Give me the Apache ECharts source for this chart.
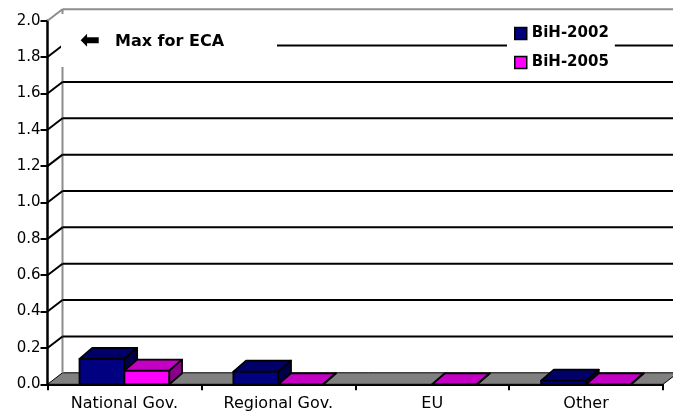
<!DOCTYPE html>
<html>
<head>
<meta charset="utf-8">
<script src="https://cdn.jsdelivr.net/npm/echarts@6/dist/echarts.min.js"></script>
<style>
  html, body { margin: 0; padding: 0; background: #fff; }
  #chart { width: 673px; height: 413px; }
</style>
</head>
<body>
<div id="chart"></div>
<script>
// Funding sources, share of firms (BiH survey rounds)
const categories = ['National Gov.', 'Regional Gov.', 'EU', 'Other'];
const bih2002 = [0.14, 0.07, null, 0.02];
const bih2005 = [0.075, 0, 0, 0];
const yTicks = [0, 0.2, 0.4, 0.6, 0.8, 1.0, 1.2, 1.4, 1.6, 1.8, 2.0];
const seriesNames = ['BiH-2002', 'BiH-2005'];
const annotationText = 'Max for ECA';

// depth of the back wall and of the boxes (pseudo-3D)
const WALL_DX = 15, WALL_DY = -11.5;
const BOX_DX = 12.7, BOX_DY = -11;
const BAR_SHARE = 0.292;
const FONT = '"DejaVu Sans", sans-serif';

function frameRenderer(params, api) {
  const cs = params.coordSys;
  const v = api.value(1);
  const y = api.coord([0, v])[1];
  const L = cs.x, R = cs.x + cs.width;
  const children = [];
  if (params.dataIndex === 0) {
    const yTop = api.coord([0, yTicks[yTicks.length - 1]])[1];
    children.push({
      type: 'polygon',
      shape: { points: [[L, y], [R, y], [R + WALL_DX, y + WALL_DY], [L + WALL_DX, y + WALL_DY]] },
      style: { fill: '#808080', stroke: '#000', lineWidth: 1 }
    });
    children.push({
      type: 'line',
      shape: { x1: L + WALL_DX, y1: yTop + WALL_DY, x2: L + WALL_DX, y2: y + WALL_DY },
      style: { stroke: '#8c8c8c', lineWidth: 2 }
    });
  } else {
    const isTop = params.dataIndex === yTicks.length - 1;
    const c = isTop ? '#8c8c8c' : '#000';
    children.push({
      type: 'line',
      shape: { x1: L, y1: y, x2: L + WALL_DX, y2: y + WALL_DY },
      style: { stroke: c, lineWidth: 2 }
    });
    children.push({
      type: 'line',
      shape: { x1: L + WALL_DX, y1: y + WALL_DY, x2: R + WALL_DX + 30, y2: y + WALL_DY },
      style: { stroke: c, lineWidth: 2 }
    });
  }
  return { type: 'group', children };
}

function boxRenderer(slot, faceColor, topColor, sideColor) {
  return function (params, api) {
    const v = api.value(1);
    if (v == null || isNaN(v)) return null;
    const cat = api.value(0);
    const base = api.coord([cat, 0]);
    const tip = api.coord([cat, v]);
    const w = api.size([1, 0])[0] * BAR_SHARE;
    const x0 = slot === 0 ? base[0] - w : base[0];
    const x1 = x0 + w;
    const y0 = base[1], y1 = tip[1];
    const stroke = { stroke: '#000', lineWidth: 1.8, lineJoin: 'round' };
    return {
      type: 'group',
      children: [
        { type: 'rect', shape: { x: x0, y: y1, width: w, height: y0 - y1 },
          style: Object.assign({ fill: faceColor }, stroke) },
        { type: 'polygon',
          shape: { points: [[x0, y1], [x1, y1], [x1 + BOX_DX, y1 + BOX_DY], [x0 + BOX_DX, y1 + BOX_DY]] },
          style: Object.assign({ fill: topColor }, stroke) },
        { type: 'polygon',
          shape: { points: [[x1, y1], [x1 + BOX_DX, y1 + BOX_DY], [x1 + BOX_DX, y0 + BOX_DY], [x1, y0]] },
          style: Object.assign({ fill: sideColor }, stroke) }
      ]
    };
  };
}

const chart = echarts.init(document.getElementById('chart'));
chart.setOption({
  animation: false,
  backgroundColor: '#fff',
  grid: { left: 47.5, right: 10, top: 20.7, bottom: 28.7, containLabel: false },
  xAxis: {
    type: 'category',
    data: categories,
    boundaryGap: true,
    axisLine: { show: true, lineStyle: { color: '#000', width: 2 } },
    axisTick: { show: true, length: 6, lineStyle: { color: '#000', width: 2 } },
    axisLabel: { color: '#000', fontFamily: FONT, fontSize: 16, margin: 12 },
    splitLine: { show: false }
  },
  yAxis: {
    type: 'value',
    min: 0, max: 2, interval: 0.2,
    axisLine: { show: true, lineStyle: { color: '#000', width: 2.5 } },
    axisTick: { show: true, length: 7, lineStyle: { color: '#000', width: 2 } },
    axisLabel: { color: '#000', fontFamily: FONT, fontSize: 15, margin: 7,
      formatter: (v) => v.toFixed(1) },
    splitLine: { show: false }
  },
  legend: {
    data: seriesNames,
    orient: 'vertical',
    left: 507, top: 18,
    padding: [8, 6, 8, 7],
    itemGap: 14,
    itemWidth: 12, itemHeight: 12,
    icon: 'rect',
    backgroundColor: '#fff',
    itemStyle: { borderColor: '#000', borderWidth: 1.5 },
    textStyle: { color: '#000', fontFamily: FONT, fontSize: 15, fontWeight: 'bold' }
  },
  graphic: [
    { type: 'rect', z: 100, shape: { x: 61, y: 14, width: 216, height: 53 }, style: { fill: '#fff' } },
    { type: 'text', z: 101, x: 80, y: 42,
      style: { text: '⬅', font: 'bold 24px ' + FONT, fill: '#000', verticalAlign: 'middle' } },
    { type: 'text', z: 101, x: 115, y: 42,
      style: { text: annotationText, font: 'bold 16px ' + FONT, fill: '#000', verticalAlign: 'middle' } }
  ],
  series: [
    {
      type: 'custom', name: 'frame', z: 1, clip: false, silent: true,
      data: yTicks.map((v) => [0, v]),
      encode: { x: 0, y: 1 },
      renderItem: frameRenderer
    },
    {
      type: 'custom', name: seriesNames[0], z: 2, clip: false,
      itemStyle: { color: '#000080' },
      data: categories.map((c, i) => [i, bih2002[i]]),
      encode: { x: 0, y: 1 },
      renderItem: boxRenderer(0, '#000080', '#000068', '#00004a')
    },
    {
      type: 'custom', name: seriesNames[1], z: 3, clip: false,
      itemStyle: { color: '#ff00ff' },
      data: categories.map((c, i) => [i, bih2005[i]]),
      encode: { x: 0, y: 1 },
      renderItem: boxRenderer(1, '#ff00ff', '#c400c4', '#8a008a')
    }
  ]
});
</script>
</body>
</html>
